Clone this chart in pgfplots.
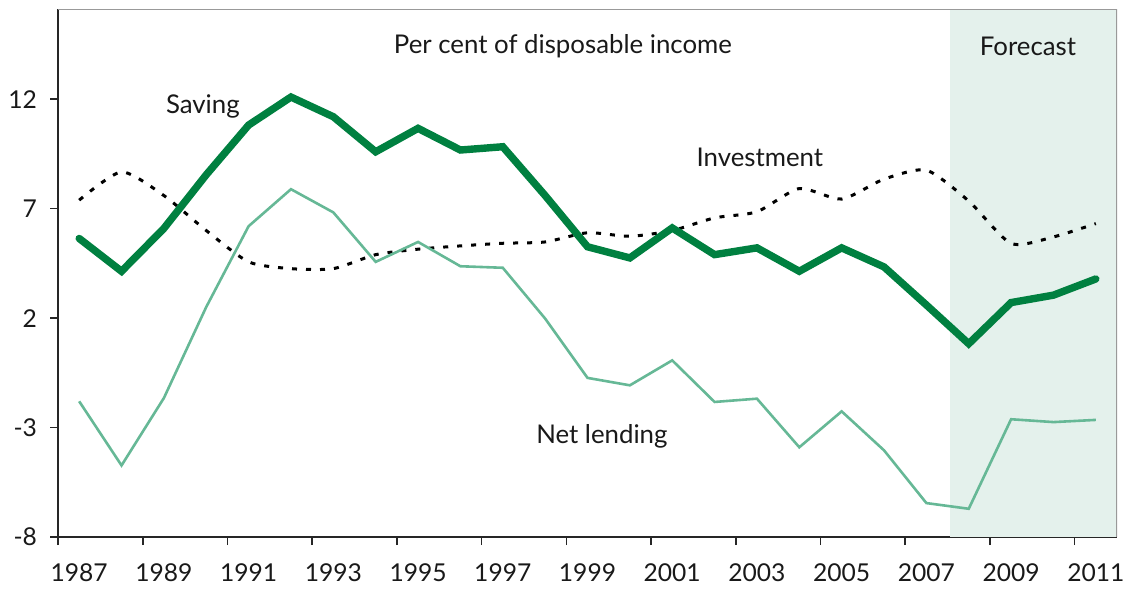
\documentclass[border=0pt]{standalone}
\usepackage{fontspec}
\setmainfont{Lato}
\usepackage{pgfplots}
\pgfplotsset{compat=1.18}
\usetikzlibrary{calc}

\definecolor{saving}{RGB}{0,128,64}
\definecolor{netlend}{RGB}{102,184,150}
\definecolor{fcast}{RGB}{228,241,236}

\begin{document}
\begin{tikzpicture}
\begin{axis}[
    scale only axis,
    width=529.5pt, height=263.75pt,
    xmin=1986.5, xmax=2011.5,
    ymin=-8, ymax=16.1,
    axis x line*=bottom, axis y line*=left,
    axis line style={line width=1pt, black!85},
    xtick={1986.5,1988.5,1990.5,1992.5,1994.5,1996.5,1998.5,2000.5,2002.5,2004.5,2006.5,2008.5,2010.5},
    xticklabels={1987,1989,1991,1993,1995,1997,1999,2001,2003,2005,2007,2009,2011},
    xticklabel style={xshift=10.59pt, yshift=-6pt},
    ytick={-8,-3,2,7,12},
    yticklabel style={xshift=-3pt},
    tick align=outside,
    major tick length=4pt,
    tick style={black!85, line width=0.8pt},
    ticklabel style={font=\fontsize{12.3}{14}\selectfont, text=black!90},
    /pgf/number format/assume math mode=true,
]
\coordinate (o) at (rel axis cs:0,0);
\coordinate (t) at (rel axis cs:1,1);

% forecast period
\addplot[fill=fcast, draw=none] coordinates {
    (2007.55,-8) (2011.5,-8) (2011.5,16.1) (2007.55,16.1)
} -- cycle;

% Investment
\addplot[black, line width=1.5pt, dash pattern=on 2.5pt off 4.5pt, smooth, tension=0.4] coordinates {
    (1987,7.39) (1988,8.68) (1989,7.6) (1990,6.0) (1991,4.57) (1992,4.26)
    (1993,4.26) (1994,4.9) (1995,5.15) (1996,5.3) (1997,5.42) (1998,5.48)
    (1999,5.9) (2000,5.74) (2001,6.0) (2002,6.58) (2003,6.86) (2004,7.92)
    (2005,7.44) (2006,8.35) (2007,8.76) (2008,7.35) (2009,5.41) (2010,5.71)
    (2011,6.32)
};

% Net lending
\addplot[netlend, line width=1.3pt] coordinates {
    (1987,-1.8) (1988,-4.73) (1989,-1.65) (1990,2.51) (1991,6.2) (1992,7.89)
    (1993,6.83) (1994,4.57) (1995,5.48) (1996,4.37) (1997,4.3) (1998,1.98)
    (1999,-0.73) (2000,-1.07) (2001,0.07) (2002,-1.83) (2003,-1.68) (2004,-3.9)
    (2005,-2.26) (2006,-4.04) (2007,-6.45) (2008,-6.71) (2009,-2.62) (2010,-2.75)
    (2011,-2.65)
};

% Saving
\addplot[saving, line width=3.7pt, line cap=round, line join=miter] coordinates {
    (1987,5.64) (1988,4.14) (1989,6.1) (1990,8.55) (1991,10.82) (1992,12.1)
    (1993,11.2) (1994,9.6) (1995,10.67) (1996,9.68) (1997,9.83) (1998,7.6)
    (1999,5.26) (2000,4.75) (2001,6.12) (2002,4.9) (2003,5.21) (2004,4.14)
    (2005,5.21) (2006,4.34) (2007,2.6) (2008,0.83) (2009,2.71) (2010,3.05)
    (2011,3.79)
};

\draw[gray!80, line width=1pt] (rel axis cs:0,1) -- (rel axis cs:1,1) -- (rel axis cs:1,0);

\begin{scope}[font=\fontsize{12.9}{15}\selectfont, text=black!90]
\node at (axis cs:1998.42,14.4) {Per cent of disposable income};
\node at (axis cs:2009.4,14.4) {Forecast};
\node at (axis cs:1989.92,11.66) {Saving};
\node at (axis cs:2003.07,9.33) {Investment};
\node at (axis cs:1999.34,-3.39) {Net lending};
\end{scope}
\end{axis}
\pgfresetboundingbox
\path ($(o)+(-29pt,-30pt)$) rectangle ($(t)+(4.5pt,4.75pt)$);
\end{tikzpicture}
\end{document}
